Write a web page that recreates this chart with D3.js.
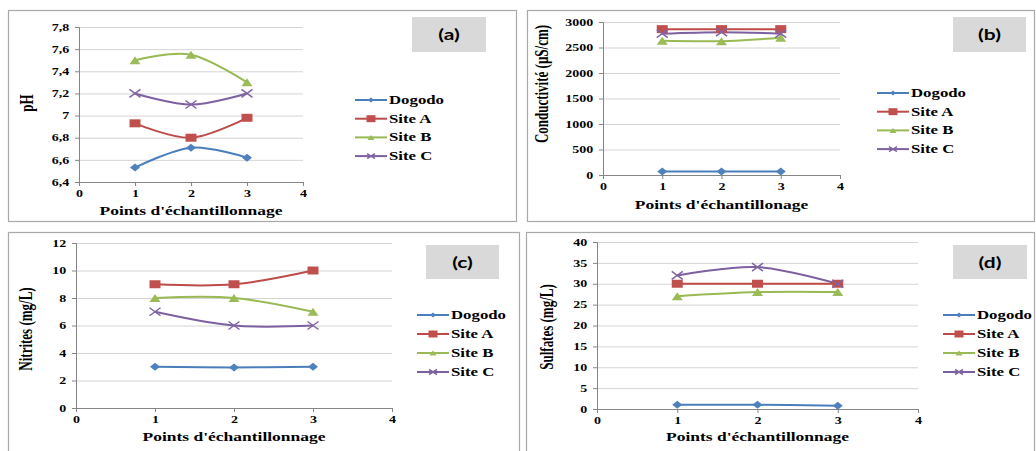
<!DOCTYPE html>
<html>
<head>
<meta charset="utf-8">
<script src="https://cdn.jsdelivr.net/npm/d3@7/dist/d3.min.js"></script>
<style>
  body { margin: 0; background: #fff; }
  svg { display: block; }
</style>
</head>
<body>
<div id="chart"></div>
<script>
// sampling points and series (order: Dogodo, Site A, Site B, Site C)
var points = [1, 2, 3];
var seriesNames = ["Dogodo", "Site A", "Site B", "Site C"];
var xTicks = [0, 1, 2, 3, 4];

var phValues = [[6.53, 6.71, 6.62], [6.93, 6.80, 6.98], [7.50, 7.55, 7.30], [7.20, 7.10, 7.20]];
var condValues = [[70, 70, 70], [2860, 2860, 2860], [2630, 2625, 2690], [2770, 2800, 2770]];
var nitriteValues = [[3, 2.95, 3], [9, 9, 10], [8, 8, 7], [7, 6, 6]];
var sulfateValues = [[1, 1, 0.8], [30, 30, 30], [27, 28, 28], [32, 34, 30]];

var phTicks = [6.4, 6.6, 6.8, 7, 7.2, 7.4, 7.6, 7.8];
var condTicks = [0, 500, 1000, 1500, 2000, 2500, 3000];
var nitriteTicks = [0, 2, 4, 6, 8, 10, 12];
var sulfateTicks = [0, 5, 10, 15, 20, 25, 30, 35, 40];

var lineColors = ["#4a7ebb", "#be4b48", "#98b954", "#7d60a0"];
var markColors = ["#4f81bd", "#c0504d", "#9bbb59", "#8064a2"];

var SERIF = "'Liberation Serif', 'Times New Roman', serif";
var SANS = "Lato, 'Liberation Sans', sans-serif";
var SX = 1.4; // text in the source is stretched sideways

var panels = [
  { tag: "(a)", values: phValues, ticks: phTicks, yTitle: "pH", xTitle: "Points d'échantillonnage",
    frame: [8, 10, 516, 221], plot: { x0: 79, x1: 303, y0: 182, y1: 27 }, box: [412, 17, 74, 35],
    legend: { x: 355, y: 100, dy: 18.7 }, xTitleY: 215, yT: { x: 28, y: 103 } },
  { tag: "(b)", values: condValues, ticks: condTicks, yTitle: "Conductivité (µS/cm)", xTitle: "Points d'échantillonage",
    frame: [527, 10, 1034, 221], plot: { x0: 603, x1: 840, y0: 175, y1: 22 }, box: [953, 17, 73, 35],
    legend: { x: 877, y: 93, dy: 18.7 }, xTitleY: 209, yT: { x: 543, y: 84 } },
  { tag: "(c)", values: nitriteValues, ticks: nitriteTicks, yTitle: "Nitrites (mg/L)", xTitle: "Points d'échantillonnage",
    frame: [8, 232, 519, 456], plot: { x0: 76, x1: 392, y0: 408, y1: 243 }, box: [426, 245, 73, 34],
    legend: { x: 417, y: 315, dy: 19 }, xTitleY: 441, yT: { x: 27, y: 329 } },
  { tag: "(d)", values: sulfateValues, ticks: sulfateTicks, yTitle: "Sulfates (mg/L)", xTitle: "Points d'échantillonnage",
    frame: [526, 232, 1034, 456], plot: { x0: 597, x1: 918, y0: 409, y1: 242 }, box: [953, 245, 74, 34],
    legend: { x: 943, y: 315, dy: 19 }, xTitleY: 441, yT: { x: 548, y: 327 } }
];

var svg = d3.select("#chart").append("svg").attr("width", 1036).attr("height", 451);

function fmt(d) { return String(+d.toFixed(1)).replace(".", ","); }

// marker shapes, w x h box centred on 0,0
function markerPath(i, w, h) {
  var a = w / 2, b = h / 2;
  if (i === 0) return "M0," + (-b) + "L" + a + ",0L0," + b + "L" + (-a) + ",0Z";
  if (i === 1) return "M" + (-a) + "," + (-b) + "h" + w + "v" + h + "h" + (-w) + "Z";
  if (i === 2) return "M0," + (-b) + "L" + a + "," + b + "L" + (-a) + "," + b + "Z";
  return "M" + (-a) + "," + (-b) + "L" + a + "," + b + "M" + a + "," + (-b) + "L" + (-a) + "," + b;
}
function drawMarker(g, i, cx, cy, w, h) {
  var p = g.append("path").attr("transform", "translate(" + cx + "," + cy + ")").attr("d", markerPath(i, w, h));
  if (i === 3) p.attr("fill", "none").attr("stroke", markColors[i]).attr("stroke-width", 1.5);
  else p.attr("fill", markColors[i]);
}
function text(g, x, y, s, size, anchor, family) {
  return g.append("text")
    .attr("transform", "translate(" + x + "," + y + ") scale(" + SX + ",1)")
    .attr("text-anchor", anchor || "start")
    .attr("font-family", family || SERIF).attr("font-weight", "bold")
    .attr("font-size", size).attr("fill", "#000").text(s);
}

panels.forEach(function(p) {
  var g = svg.append("g");
  var f = p.frame;
  g.append("rect").attr("x", f[0] + 0.5).attr("y", f[1] + 0.5).attr("width", f[2] - f[0]).attr("height", f[3] - f[1])
    .attr("fill", "#fff").attr("stroke", "#a8a8a8").attr("stroke-width", 1.2);

  var x = d3.scaleLinear().domain([0, 4]).range([p.plot.x0, p.plot.x1]);
  var y = d3.scaleLinear().domain([p.ticks[0], p.ticks[p.ticks.length - 1]]).range([p.plot.y0, p.plot.y1]);

  // gridlines
  g.append("g").attr("transform", "translate(" + p.plot.x0 + ",0)")
    .call(d3.axisLeft(y).tickValues(p.ticks.slice(1)).tickSize(-(p.plot.x1 - p.plot.x0)).tickFormat(""))
    .call(function(s) { s.select(".domain").remove(); s.selectAll("line").attr("stroke", "#d4d4d4"); });

  // y axis
  var ya = g.append("g").attr("transform", "translate(" + p.plot.x0 + ",0)")
    .call(d3.axisLeft(y).tickValues(p.ticks).tickSize(4).tickPadding(3).tickFormat(fmt));
  // x axis
  var xa = g.append("g").attr("transform", "translate(0," + p.plot.y0 + ")")
    .call(d3.axisBottom(x).tickValues(xTicks).tickSize(4).tickPadding(4).tickFormat(d3.format("d")));
  [ya, xa].forEach(function(a) {
    a.select(".domain").attr("stroke", "#868686");
    a.selectAll("line").attr("stroke", "#868686");
    a.selectAll("text").attr("font-family", SERIF).attr("font-weight", "bold").attr("font-size", 10)
      .attr("fill", "#000").attr("transform", "scale(" + SX + ",1)");
  });

  // series
  var line = d3.line().x(function(d, k) { return x(points[k]); }).y(function(d) { return y(d); })
    .curve(d3.curveCardinal.tension(0));
  p.values.forEach(function(vals, i) {
    g.append("path").attr("d", line(vals)).attr("fill", "none").attr("stroke", lineColors[i]).attr("stroke-width", 2);
  });
  p.values.forEach(function(vals, i) {
    vals.forEach(function(v, k) {
      var w = i === 0 ? 10 : 11, h = 8;
      drawMarker(g, i, x(points[k]), y(v), w, h);
    });
  });

  // titles
  text(g, (p.plot.x0 + p.plot.x1) / 2, p.xTitleY, p.xTitle, 12.5, "middle");
  g.append("text")
    .attr("transform", "translate(" + (p.yT.x + 5) + "," + p.yT.y + ") rotate(-90) scale(1," + SX + ")")
    .attr("text-anchor", "middle").attr("font-family", SERIF).attr("font-weight", "bold")
    .attr("font-size", 13).attr("fill", "#000").text(p.yTitle);

  // tag box
  g.append("rect").attr("x", p.box[0]).attr("y", p.box[1]).attr("width", p.box[2]).attr("height", p.box[3]).attr("fill", "#d9d9d9");
  text(g, p.box[0] + p.box[2] / 2, p.box[1] + p.box[3] / 2 + 5.5, p.tag, 15, "middle", SANS);

  // legend
  seriesNames.forEach(function(name, i) {
    var ly = p.legend.y + i * p.legend.dy;
    g.append("line").attr("x1", p.legend.x).attr("x2", p.legend.x + 32).attr("y1", ly).attr("y2", ly)
      .attr("stroke", lineColors[i]).attr("stroke-width", 2);
    var sz = [[6, 5], [9, 7], [7, 5], [8, 5]][i];
    drawMarker(g, i, p.legend.x + 16, ly, sz[0], sz[1]);
    text(g, p.legend.x + 34, ly + 4, name, 12);
  });
});
</script>
</body>
</html>
